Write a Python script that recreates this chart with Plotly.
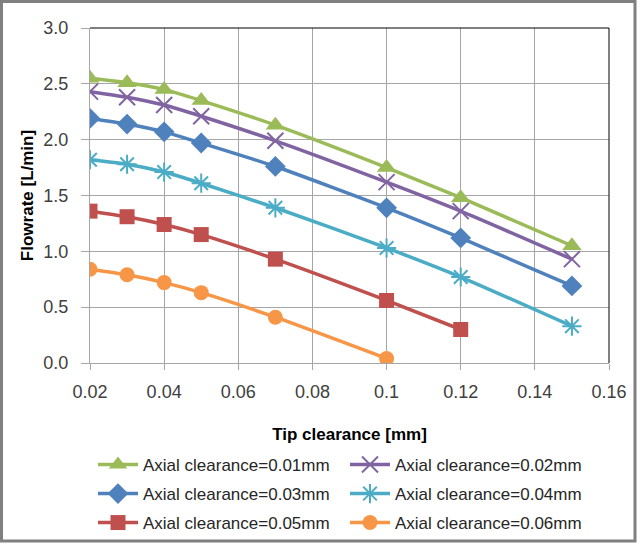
import plotly.graph_objects as go

tip_clearance = [0.02, 0.03, 0.04, 0.05, 0.07, 0.10, 0.12, 0.15]
series_names = ["Axial clearance=0.01mm", "Axial clearance=0.02mm",
                "Axial clearance=0.03mm", "Axial clearance=0.04mm",
                "Axial clearance=0.05mm", "Axial clearance=0.06mm"]
flow_001 = [2.55, 2.51, 2.45, 2.35, 2.13, 1.75, 1.48, 1.05]
flow_002 = [2.43, 2.38, 2.31, 2.21, 1.99, 1.62, 1.36, 0.93]
flow_003 = [2.19, 2.14, 2.07, 1.97, 1.76, 1.39, 1.12, 0.69]
flow_004 = [1.82, 1.78, 1.71, 1.61, 1.39, 1.03, 0.77, 0.33]
flow_005 = [1.36, 1.31, 1.24, 1.15, 0.93, 0.56, 0.30]
flow_006 = [0.84, 0.79, 0.72, 0.63, 0.41, 0.04]
x_ticks = [0.02, 0.04, 0.06, 0.08, 0.1, 0.12, 0.14, 0.16]
x_tick_text = ["0.02", "0.04", "0.06", "0.08", "0.1", "0.12", "0.14", "0.16"]
y_ticks = [0.0, 0.5, 1.0, 1.5, 2.0, 2.5, 3.0]
y_tick_text = ["0.0", "0.5", "1.0", "1.5", "2.0", "2.5", "3.0"]

colors = ["#9BBB59", "#8064A2", "#4F81BD", "#4BACC6", "#C0504D", "#F79646"]
symbols = ["triangle-up", "x-thin", "diamond", "asterisk", "square", "circle"]
sizes = [17, 16, 16, 16, 15, 15]
data = [flow_001, flow_002, flow_003, flow_004, flow_005, flow_006]
legend_ids = ["legend", "legend2", "legend3", "legend4", "legend5", "legend6"]

FONT = "Liberation Sans"
fig = go.Figure()
for name, ys, c, s, sz, lg in zip(series_names, data, colors, symbols, sizes, legend_ids):
    thin = s in ("x-thin", "asterisk")
    fig.add_trace(go.Scatter(
        x=tip_clearance[:len(ys)], y=ys, name=name, mode="lines+markers",
        legend=lg,
        line=dict(color=c, width=3.5, shape="spline", smoothing=0.6),
        marker=dict(symbol=s, size=sz, color=c,
                    line=dict(color=c, width=2 if thin else 0)),
    ))

L, R, T, B = 90, 31, 28, 181
W, H = 640, 544
pw, ph = W - L - R, H - T - B

def px(x):
    return (x - L) / pw

def py(y):
    return (H - B - y) / ph

def leg(xleft, ycenter):
    return dict(orientation="v", x=px(xleft), y=py(ycenter), xanchor="left",
                yanchor="middle", font=dict(size=17, color="#262626"),
                itemwidth=40, bgcolor="rgba(0,0,0,0)", borderwidth=0)

legend_pos = [(93, 465), (345, 465), (93, 494), (345, 494), (93, 523), (345, 523)]
legend_layout = {}
for lg, (lx, ly) in zip(legend_ids, legend_pos):
    legend_layout[lg] = leg(lx, ly)

fig.update_layout(
    width=W, height=H,
    margin=dict(l=L, r=R, t=T, b=B, autoexpand=False),
    paper_bgcolor="white", plot_bgcolor="white",
    font=dict(family=FONT, size=16, color="#262626"),
    xaxis=dict(range=[0.02, 0.16], tickvals=x_ticks, ticktext=x_tick_text,
               showgrid=True, gridcolor="#A6A6A6", gridwidth=1,
               showline=True, linecolor="#A6A6A6", linewidth=1,
               ticks="outside", ticklen=6, tickcolor="#A6A6A6",
               ticklabelstandoff=6,
               tickfont=dict(size=18, color="#404040"), zeroline=False,
               title=dict(text="<b>Tip clearance [mm]</b>",
                          font=dict(size=17, color="#000000"), standoff=27)),
    yaxis=dict(range=[0, 3.0], tickvals=y_ticks, ticktext=y_tick_text,
               showgrid=True, gridcolor="#A6A6A6", gridwidth=1,
               showline=True, linecolor="#A6A6A6", linewidth=1,
               ticks="outside", ticklen=8, tickcolor="#A6A6A6",
               ticklabelstandoff=9,
               tickfont=dict(size=18, color="#404040"), zeroline=False,
               title=dict(text="<b>Flowrate [L/min]</b>",
                          font=dict(size=17, color="#000000"), standoff=5)),
    showlegend=True,
    shapes=[
        dict(type="line", xref="paper", yref="paper", x0=0, x1=1, y0=1, y1=1,
             line=dict(color="#000000", width=1)),
        dict(type="line", xref="paper", yref="paper", x0=1, x1=1, y0=0, y1=1,
             line=dict(color="#000000", width=1)),
        dict(type="rect", xref="paper", yref="paper", x0=px(1.5), x1=px(635),
             y0=py(541), y1=py(1.5), line=dict(color="#808080", width=3),
             layer="above"),
    ],
    **legend_layout,
)

fig.write_html("out.html")
